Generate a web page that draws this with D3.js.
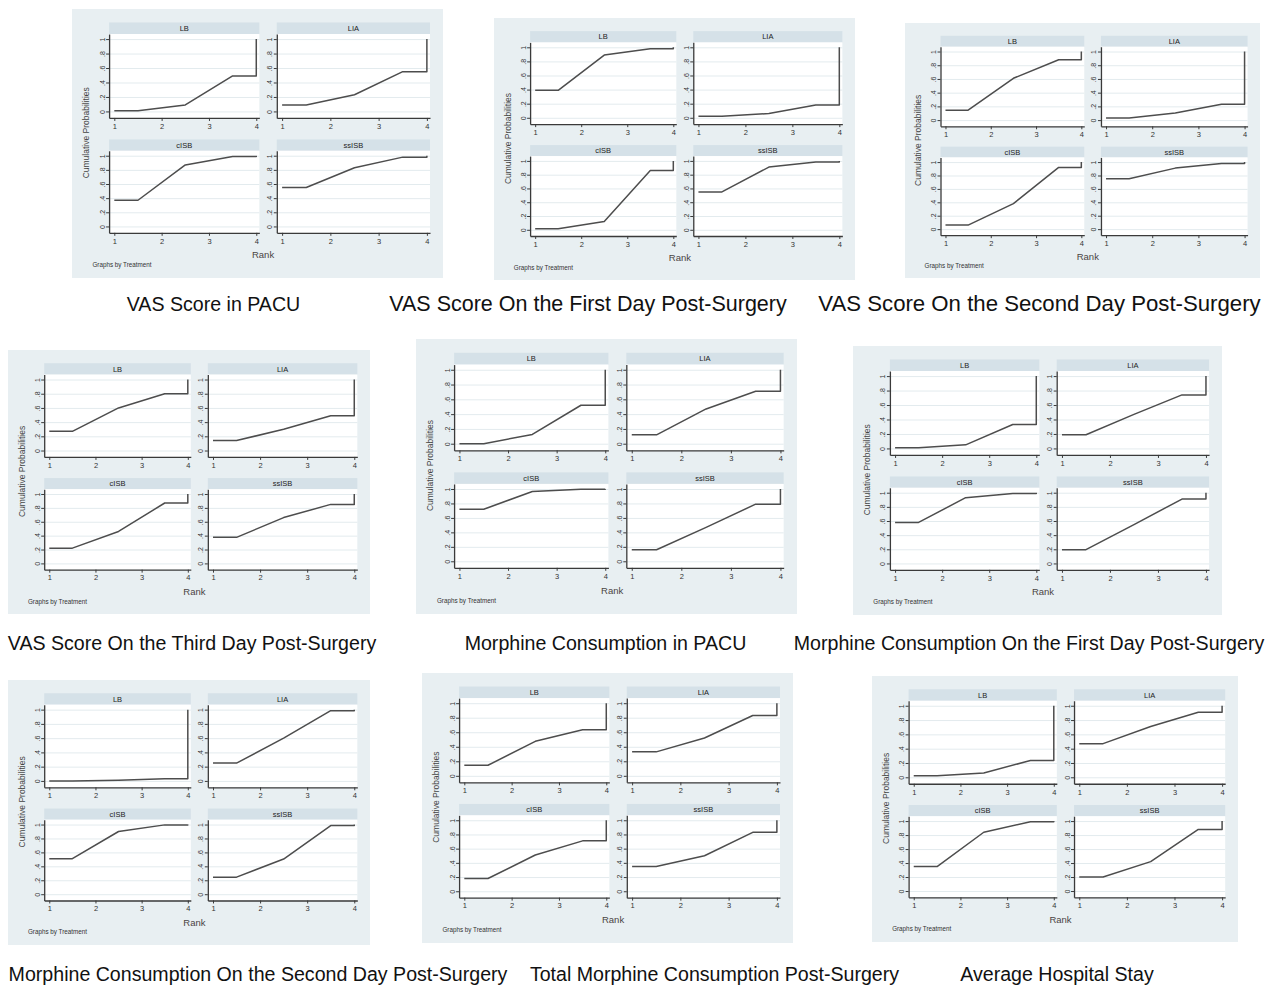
<!DOCTYPE html>
<html>
<head>
<meta charset="utf-8">
<script src="https://cdn.jsdelivr.net/npm/d3@7"></script>
<style>
  body { margin: 0; background: #ffffff; }
  svg { display: block; }
</style>
</head>
<body>
<svg id="fig" width="1276" height="987"></svg>
<script>
// Outcomes, one rankogram panel each
const outcomes = [
  "VAS Score in PACU",
  "VAS Score On the First Day Post-Surgery",
  "VAS Score On the Second Day Post-Surgery",
  "VAS Score On the Third Day Post-Surgery",
  "Morphine Consumption in PACU",
  "Morphine Consumption On the First Day Post-Surgery",
  "Morphine Consumption On the Second Day Post-Surgery",
  "Total Morphine Consumption Post-Surgery",
  "Average Hospital Stay"
];

const treatments = ["LB", "LIA", "cISB", "ssISB"];
const rankTicks = [1, 2, 3, 4];
const probTicks = [0, 0.2, 0.4, 0.6, 0.8, 1];
const probTickLabels = ["0", ".2", ".4", ".6", ".8", "1"];

// Cumulative probability of being within the best k ranks (k = 1..4), one row per outcome
const cumLB = [
  [0.01, 0.09, 0.49, 1],
  [0.39, 0.89, 0.98, 1],
  [0.145, 0.61, 0.88, 1],
  [0.27, 0.60, 0.80, 1],
  [0.00, 0.125, 0.52, 1],
  [0.01, 0.05, 0.33, 1],
  [0.00, 0.01, 0.03, 1],
  [0.145, 0.475, 0.635, 1],
  [0.02, 0.06, 0.235, 1]
];
const cumLIA = [
  [0.09, 0.23, 0.55, 1],
  [0.02, 0.06, 0.18, 1],
  [0.03, 0.105, 0.23, 1],
  [0.14, 0.30, 0.49, 1],
  [0.12, 0.47, 0.71, 1],
  [0.19, 0.47, 0.74, 1],
  [0.25, 0.60, 0.985, 1],
  [0.33, 0.52, 0.83, 1],
  [0.47, 0.71, 0.91, 1]
];
const cumCISB = [
  [0.37, 0.87, 0.99, 1],
  [0.015, 0.12, 0.86, 1],
  [0.06, 0.38, 0.92, 1],
  [0.22, 0.46, 0.87, 1],
  [0.72, 0.965, 0.995, 1],
  [0.58, 0.93, 0.99, 1],
  [0.51, 0.90, 0.995, 1],
  [0.18, 0.51, 0.71, 1],
  [0.35, 0.84, 0.99, 1]
];
const cumSSISB = [
  [0.55, 0.83, 0.98, 1],
  [0.55, 0.91, 0.985, 1],
  [0.75, 0.91, 0.98, 1],
  [0.375, 0.66, 0.85, 1],
  [0.16, 0.47, 0.79, 1],
  [0.195, 0.55, 0.91, 1],
  [0.245, 0.505, 0.985, 1],
  [0.35, 0.50, 0.83, 1],
  [0.20, 0.42, 0.88, 1]
];

// Page layout: where each panel sits, and the centre / font size of its caption
const panelBoxes = [
  { x: 72,  y: 9,   w: 371, h: 269, cx: 213.5,  cy: 311, fs: 19.6 },
  { x: 494, y: 18,  w: 361, h: 262, cx: 588,    cy: 311, fs: 21.5 },
  { x: 905, y: 23,  w: 355, h: 255, cx: 1039.5, cy: 311, fs: 22.2 },
  { x: 8,   y: 350, w: 362, h: 264, cx: 192,    cy: 650, fs: 19.6 },
  { x: 416, y: 339, w: 381, h: 275, cx: 605.5,  cy: 650, fs: 19.6 },
  { x: 853, y: 346, w: 369, h: 269, cx: 1029,   cy: 650, fs: 19.6 },
  { x: 8,   y: 680, w: 362, h: 265, cx: 258,    cy: 981, fs: 19.6 },
  { x: 422, y: 673, w: 371, h: 270, cx: 714.5,  cy: 981, fs: 19.6 },
  { x: 872, y: 676, w: 366, h: 266, cx: 1057,   cy: 981, fs: 19.6 }
];

const FONT = "'Liberation Sans', Arial, Helvetica, sans-serif";
const series = [cumLB, cumLIA, cumCISB, cumSSISB];

const svg = d3.select("#fig").attr("font-family", FONT);

// Sub-graph grid inside a panel (fractions of panel width / height)
const cols = [[0.100, 0.505], [0.552, 0.965]];
const rows = [
  { hdr: 0.050, top: 0.093, bot: 0.405 },
  { hdr: 0.485, top: 0.527, bot: 0.832 }
];

const line = d3.line();

outcomes.forEach((title, p) => {
  const b = panelBoxes[p];
  const g = svg.append("g").attr("transform", `translate(${b.x},${b.y})`);

  g.append("rect")
    .attr("width", b.w).attr("height", b.h)
    .attr("fill", "#e8eff2");

  treatments.forEach((t, k) => {
    const c = cols[k % 2], r = rows[Math.floor(k / 2)];
    const x0 = c[0] * b.w, x1 = c[1] * b.w;
    const yHdr = r.hdr * b.h, yTop = r.top * b.h, yBot = r.bot * b.h;

    // title strip
    g.append("rect")
      .attr("x", x0).attr("y", yHdr)
      .attr("width", x1 - x0).attr("height", yTop - yHdr)
      .attr("fill", "#d5e1e8");
    g.append("text")
      .attr("x", (x0 + x1) / 2).attr("y", (yHdr + yTop) / 2)
      .attr("dy", "0.36em").attr("text-anchor", "middle")
      .attr("font-size", 7.5).attr("fill", "#222")
      .text(t);

    // plot region
    g.append("rect")
      .attr("x", x0).attr("y", yTop)
      .attr("width", x1 - x0).attr("height", yBot - yTop)
      .attr("fill", "#ffffff");

    const x = d3.scaleLinear().domain([0.89, 4.065]).range([x0, x1]);
    const y = d3.scaleLinear().domain([-0.09, 1.07]).range([yBot, yTop]);

    // horizontal grid
    g.append("g")
      .attr("transform", `translate(${x0},0)`)
      .call(d3.axisLeft(y).tickValues(probTicks).tickSize(-(x1 - x0)).tickFormat(""))
      .call(s => {
        s.select(".domain").remove();
        s.selectAll("line").attr("stroke", "#e3ebee").attr("stroke-width", 1);
      });

    // cumulative rank curve
    const cum = series[k][p];
    const pts = [[1, cum[0]], [1.5, cum[0]], [2.5, cum[1]], [3.5, cum[2]], [4, cum[2]], [4, cum[3]]];
    g.append("path")
      .attr("d", line.x(d => x(d[0])).y(d => y(d[1]))(pts))
      .attr("fill", "none")
      .attr("stroke", "#4d4d4d")
      .attr("stroke-width", 1.5)
      .attr("stroke-linejoin", "round");

    // y axis with vertical labels
    g.append("g")
      .attr("transform", `translate(${x0},0)`)
      .call(d3.axisLeft(y).tickValues(probTicks)
        .tickFormat((d, i) => probTickLabels[i])
        .tickSize(3).tickSizeOuter(0))
      .call(s => {
        s.select(".domain").attr("stroke", "#3a3a3a").attr("stroke-width", 1.3);
        s.selectAll(".tick line").attr("stroke", "#3a3a3a");
        s.selectAll("text")
          .attr("x", 0).attr("dy", 0)
          .attr("text-anchor", "middle")
          .attr("transform", "translate(-4.5,0) rotate(-90)")
          .attr("font-size", 7).attr("font-family", FONT).attr("fill", "#333");
      });

    // x axis
    g.append("g")
      .attr("transform", `translate(0,${yBot})`)
      .call(d3.axisBottom(x).tickValues(rankTicks).tickFormat(d3.format("d"))
        .tickSize(3).tickSizeOuter(0).tickPadding(2.5))
      .call(s => {
        s.select(".domain").attr("stroke", "#3a3a3a").attr("stroke-width", 1.3);
        s.selectAll(".tick line").attr("stroke", "#3a3a3a");
        s.selectAll("text")
          .attr("font-size", 7.5).attr("font-family", FONT).attr("fill", "#333");
      });
  });

  // shared axis titles and note
  g.append("text")
    .attr("transform", `translate(${0.038 * b.w},${0.46 * b.h}) rotate(-90)`)
    .attr("text-anchor", "middle").attr("dy", "0.35em")
    .attr("font-size", 8.5).attr("fill", "#444")
    .text("Cumulative Probabilities");
  g.append("text")
    .attr("x", 0.515 * b.w).attr("y", 0.915 * b.h)
    .attr("dy", "0.35em").attr("text-anchor", "middle")
    .attr("font-size", 9.5).attr("fill", "#4a4444")
    .text("Rank");
  g.append("text")
    .attr("x", 0.055 * b.w).attr("y", 0.952 * b.h)
    .attr("dy", "0.35em")
    .attr("font-size", 6.3).attr("fill", "#333")
    .text("Graphs by Treatment");

  // caption below the panel
  svg.append("text")
    .attr("x", b.cx).attr("y", b.cy)
    .attr("text-anchor", "middle")
    .attr("font-size", b.fs).attr("fill", "#111")
    .text(title);
});
</script>
</body>
</html>
